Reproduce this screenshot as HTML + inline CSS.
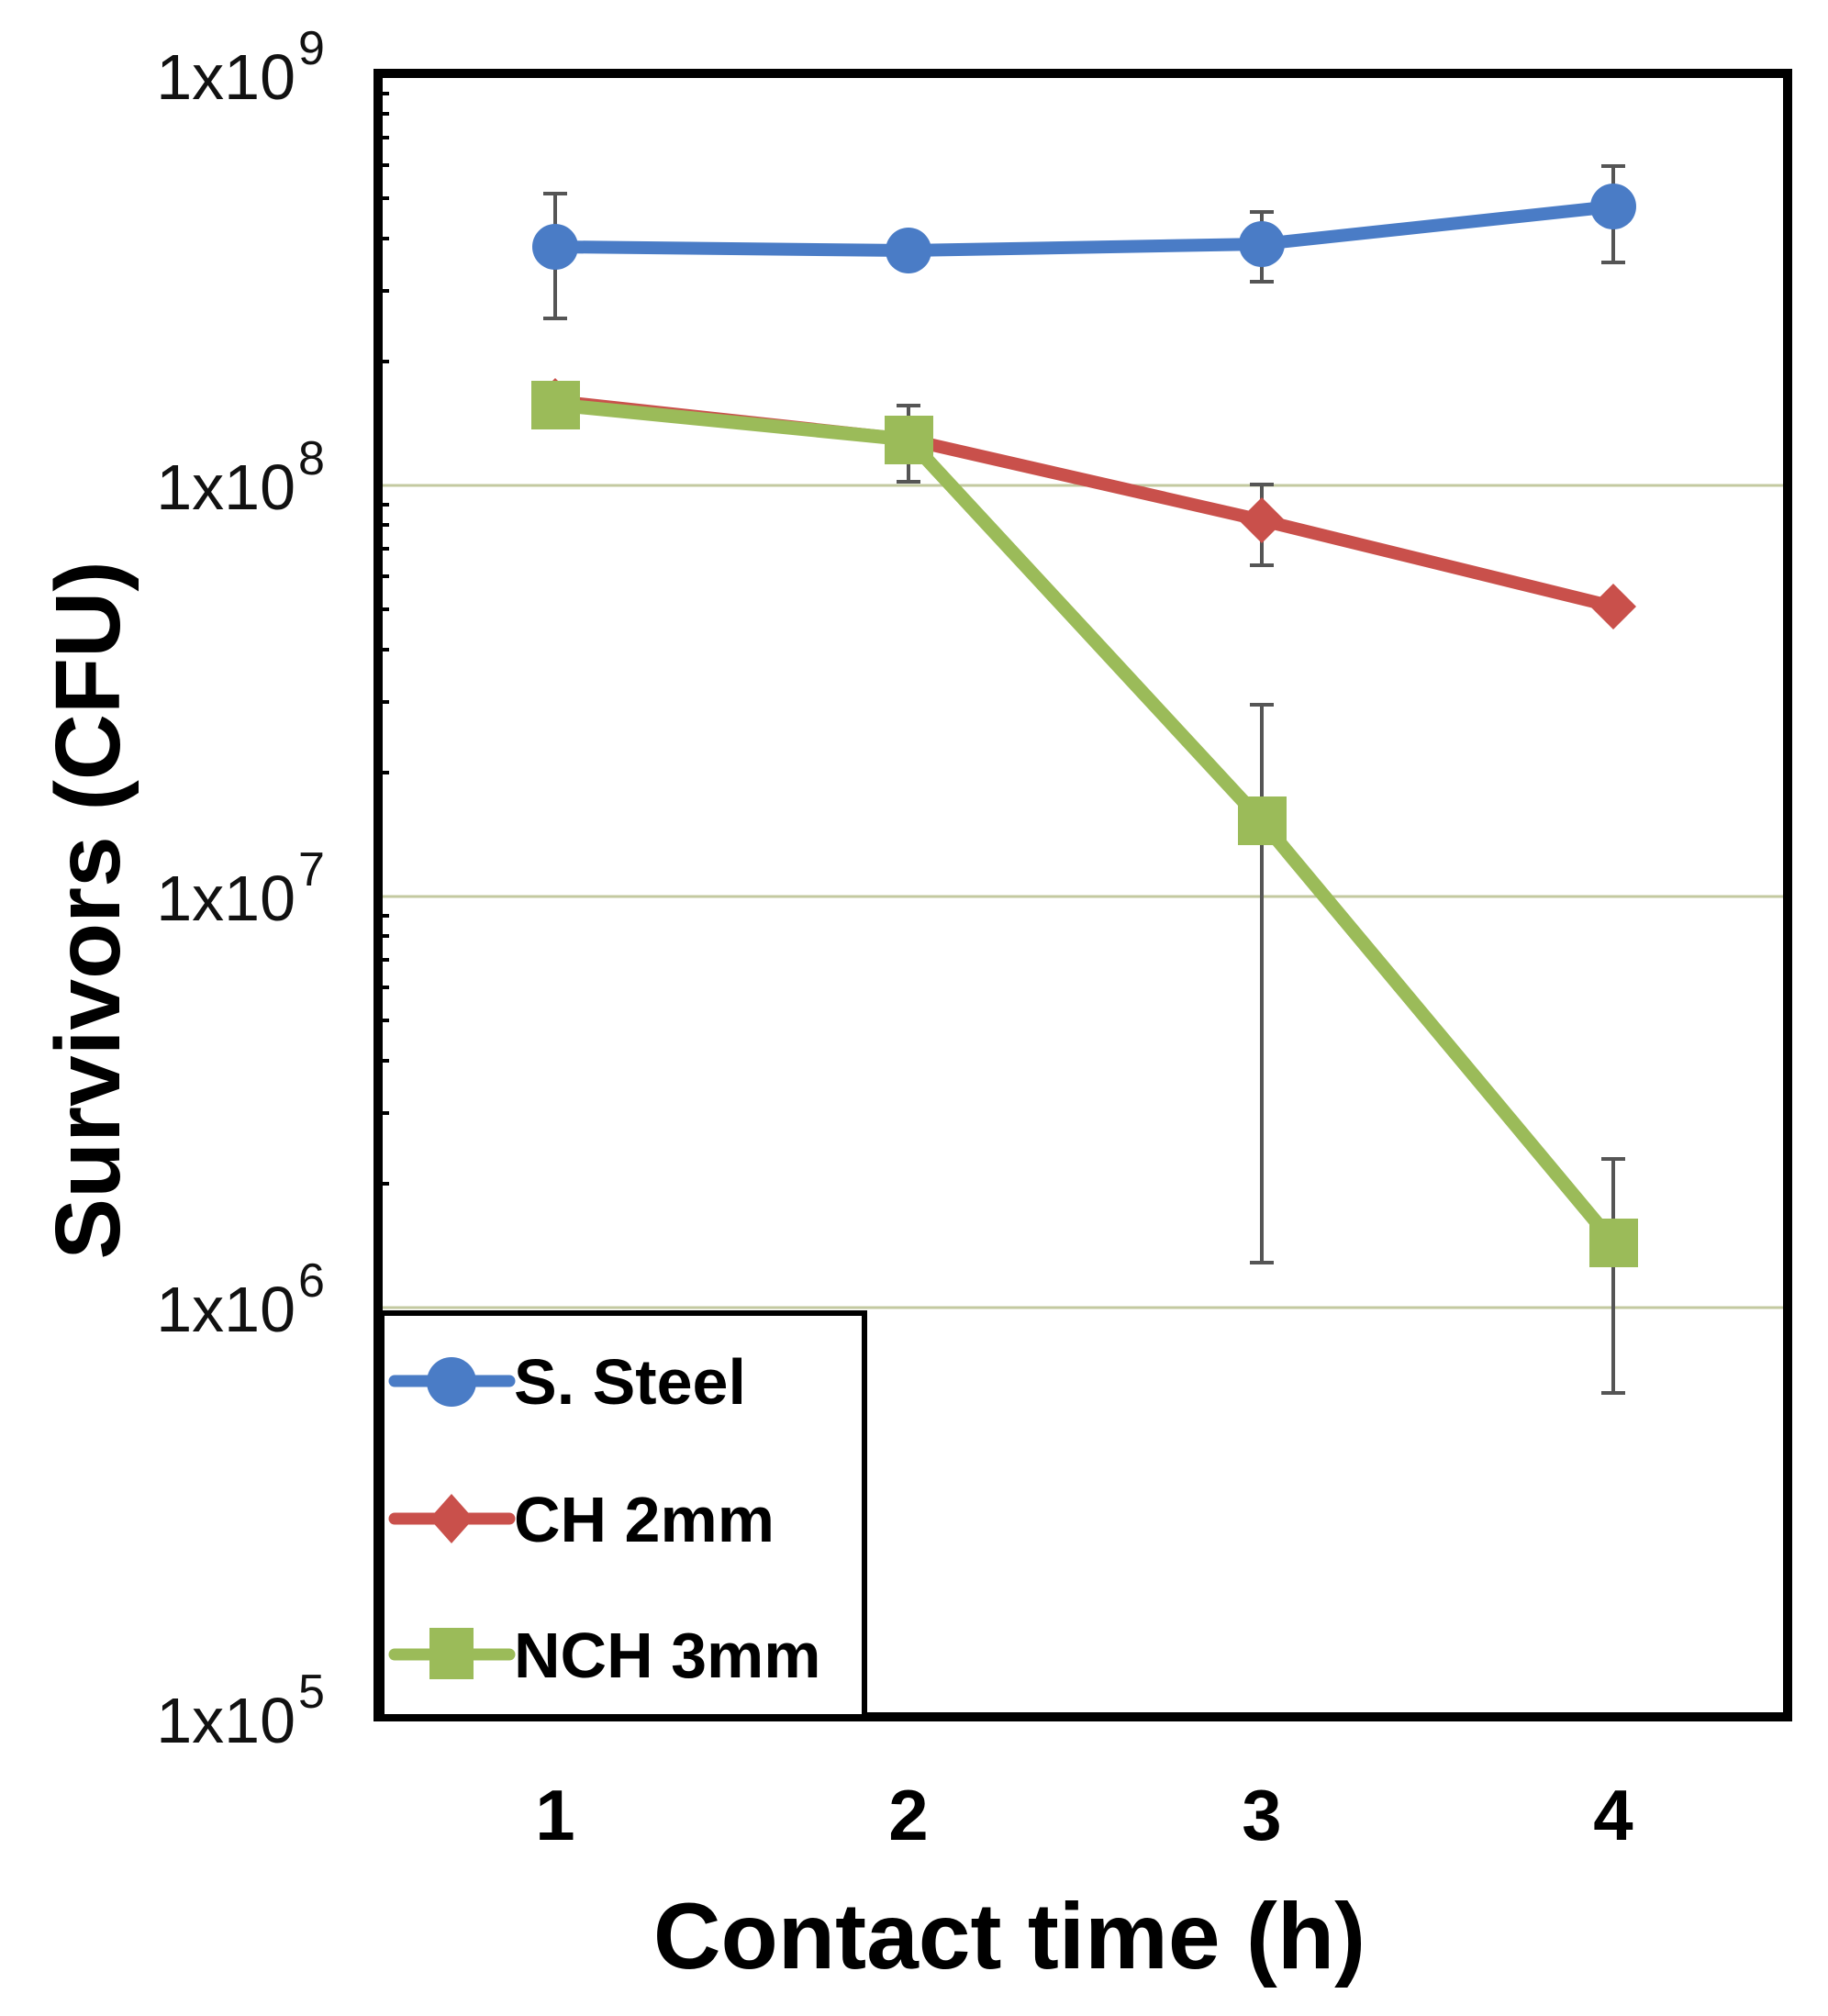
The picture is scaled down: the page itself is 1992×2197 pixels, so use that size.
<!DOCTYPE html>
<html><head><meta charset="utf-8"><style>
html,body{margin:0;padding:0;background:#fff;}
svg{display:block;}
text{font-family:"Liberation Sans",sans-serif;}
</style></head><body>
<svg width="1992" height="2197" viewBox="0 0 1992 2197" xmlns="http://www.w3.org/2000/svg">
<rect width="1992" height="2197" fill="#fff"/>
<g stroke="#c3c9a0" stroke-width="3">
<line x1="412" y1="529" x2="1946" y2="529"/>
<line x1="412" y1="977" x2="1946" y2="977"/>
<line x1="412" y1="1425" x2="1946" y2="1425"/>
</g>
<g stroke="#000" stroke-width="4">
<line x1="412" y1="81" x2="428" y2="81"/>
<line x1="412" y1="102" x2="424" y2="102"/><line x1="412" y1="124" x2="424" y2="124"/><line x1="412" y1="150" x2="424" y2="150"/><line x1="412" y1="180" x2="424" y2="180"/><line x1="412" y1="216" x2="424" y2="216"/><line x1="412" y1="260" x2="424" y2="260"/><line x1="412" y1="317" x2="424" y2="317"/><line x1="412" y1="394" x2="424" y2="394"/>
<line x1="412" y1="550" x2="424" y2="550"/><line x1="412" y1="572" x2="424" y2="572"/><line x1="412" y1="598" x2="424" y2="598"/><line x1="412" y1="628" x2="424" y2="628"/><line x1="412" y1="664" x2="424" y2="664"/><line x1="412" y1="708" x2="424" y2="708"/><line x1="412" y1="765" x2="424" y2="765"/><line x1="412" y1="842" x2="424" y2="842"/>
<line x1="412" y1="998" x2="424" y2="998"/><line x1="412" y1="1020" x2="424" y2="1020"/><line x1="412" y1="1046" x2="424" y2="1046"/><line x1="412" y1="1076" x2="424" y2="1076"/><line x1="412" y1="1112" x2="424" y2="1112"/><line x1="412" y1="1156" x2="424" y2="1156"/><line x1="412" y1="1213" x2="424" y2="1213"/><line x1="412" y1="1290" x2="424" y2="1290"/>
<line x1="412" y1="1446" x2="424" y2="1446"/><line x1="412" y1="1468" x2="424" y2="1468"/><line x1="412" y1="1494" x2="424" y2="1494"/><line x1="412" y1="1524" x2="424" y2="1524"/><line x1="412" y1="1560" x2="424" y2="1560"/><line x1="412" y1="1604" x2="424" y2="1604"/><line x1="412" y1="1661" x2="424" y2="1661"/><line x1="412" y1="1738" x2="424" y2="1738"/>
</g>
<g stroke="#555" stroke-width="4" fill="none">
<path d="M605 211V347M592 211H618M592 347H618"/>
<path d="M1375 231V307M1362 231H1388M1362 307H1388"/>
<path d="M1758 181V286M1745 181H1771M1745 286H1771"/>
<path d="M1375 528V616M1362 528H1388M1362 616H1388"/>
<path d="M990 442V525M977 442H1003M977 525H1003"/>
<path d="M1375 768V1376M1362 768H1388M1362 1376H1388"/>
<path d="M1758 1263V1518M1745 1263H1771M1745 1518H1771"/>
</g>
<polyline points="605,269 990,273 1375,266 1758,225" fill="none" stroke="#4a7cc6" stroke-width="14" stroke-linejoin="round"/>
<g fill="#4a7cc6"><circle cx="605" cy="269" r="25"/><circle cx="990" cy="273" r="25"/><circle cx="1375" cy="266" r="25"/><circle cx="1758" cy="225" r="25"/></g>
<polyline points="605,437 990,479 1375,567 1758,661" fill="none" stroke="#c9504b" stroke-width="14" stroke-linejoin="round"/>
<g fill="#c9504b"><path d="M605 412l25 25-25 25-25-25z"/><path d="M990 454l25 25-25 25-25-25z"/><path d="M1375 542l25 25-25 25-25-25z"/><path d="M1758 636l25 25-25 25-25-25z"/></g>
<polyline points="605,441 990,479 1375,895 1758,1354" fill="none" stroke="#9bbb59" stroke-width="15" stroke-linejoin="round"/>
<g fill="#9bbb59"><rect x="579" y="415" width="53" height="53"/><rect x="964" y="453" width="53" height="53"/><rect x="1349" y="868" width="53" height="53"/><rect x="1732" y="1328" width="53" height="53"/></g>
<rect x="412" y="80" width="1536" height="1791" fill="none" stroke="#000" stroke-width="10"/>
<rect x="416" y="1431" width="526" height="440" fill="#fff" stroke="#000" stroke-width="6"/>
<g stroke-width="13" stroke-linecap="round">
<line x1="430" y1="1505" x2="555" y2="1505" stroke="#4a7cc6"/>
<line x1="430" y1="1655" x2="555" y2="1655" stroke="#c9504b"/>
<line x1="430" y1="1803" x2="555" y2="1803" stroke="#9bbb59"/>
</g>
<circle cx="492" cy="1506" r="27" fill="#4a7cc6"/>
<path d="M492 1628l24 27-24 27-24-27z" fill="#c9504b"/>
<rect x="468" y="1774" width="48" height="56" fill="#9bbb59"/>
<g font-weight="bold" font-size="70" fill="#000">
<text x="560" y="1530">S. Steel</text>
<text x="560" y="1680">CH 2mm</text>
<text x="560" y="1828">NCH 3mm</text>
</g>
<g font-size="70" fill="#111" text-anchor="end">
<text x="322" y="108">1x10</text><text x="325" y="70" text-anchor="start" font-size="52">9</text>
<text x="322" y="555">1x10</text><text x="325" y="517" text-anchor="start" font-size="52">8</text>
<text x="322" y="1003">1x10</text><text x="325" y="965" text-anchor="start" font-size="52">7</text>
<text x="322" y="1451">1x10</text><text x="325" y="1413" text-anchor="start" font-size="52">6</text>
<text x="322" y="1899">1x10</text><text x="325" y="1861" text-anchor="start" font-size="52">5</text>
</g>
<g font-size="78" font-weight="bold" text-anchor="middle" fill="#000">
<text x="605" y="2005">1</text><text x="990" y="2005">2</text><text x="1375" y="2005">3</text><text x="1758" y="2005">4</text>
</g>
<text x="1100" y="2145" font-size="102" font-weight="bold" text-anchor="middle">Contact time (h)</text>
<text transform="translate(130,992) rotate(-90)" font-size="100" font-weight="bold" text-anchor="middle">Survivors (CFU)</text>
</svg>
</body></html>
